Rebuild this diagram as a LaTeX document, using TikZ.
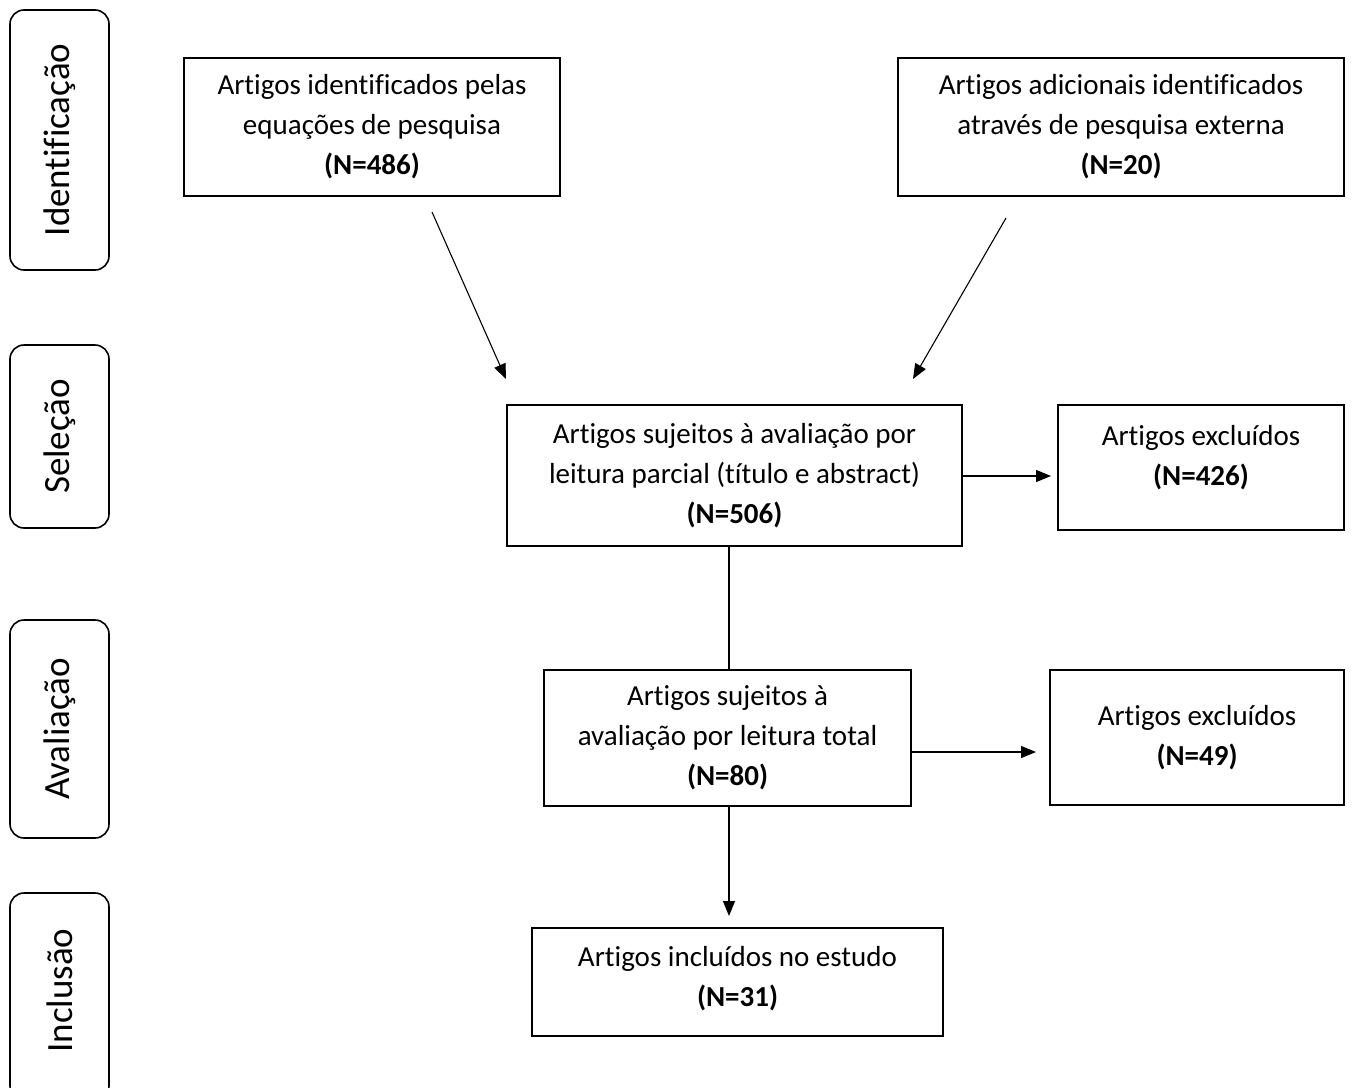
\documentclass[tikz,border=0pt]{standalone}
\usepackage{fontspec}
\setmainfont{Carlito}[Ligatures=NoCommon]
\usetikzlibrary{arrows.meta}
\begin{document}
\begin{tikzpicture}[x=1pt,y=-1pt,
  box/.style={draw=black,line width=1.1pt,rectangle,inner sep=0pt},
  side/.style={draw=black,line width=1.6pt,rounded corners=14pt,inner sep=0pt,minimum width=99pt},
  txt/.style={align=center,font=\fontsize{29}{40}\selectfont,inner sep=0pt},
  sidetxt/.style={rotate=90,font=\fontsize{37}{40}\selectfont,inner sep=0pt},
  arr/.style={line width=1.1pt,-{Triangle[length=15pt,width=12pt]}},
  ln/.style={line width=1.1pt}]
\useasboundingbox (0,0) rectangle (1354,1087);
\begin{scope}
\clip (0,0) rectangle (1354,1087);
% side boxes
\node[side,minimum height=260pt] (s1) at (59.5,140) {};
\node[side,minimum height=183pt] (s2) at (59.5,436.5) {};
\node[side,minimum height=218pt] (s3) at (59.5,729) {};
\node[side,minimum height=207pt] (s4) at (59.5,996.5) {};
\end{scope}
\node[sidetxt] at (s1.center) {Identificação};
\node[sidetxt] at (s2.center) {Seleção};
\node[sidetxt] at (s3.center) {Avaliação};
\node[sidetxt] at ([yshift=6pt]s4.center) {Inclusão};
% boxes
\node[box,minimum width=376pt,minimum height=138pt] (b1) at (372,127) {};
\node[txt] at (b1.center) {Artigos identificados pelas\\equações de pesquisa\\\textbf{(N=486)}};
\node[box,minimum width=446pt,minimum height=138pt] (b2) at (1121,127) {};
\node[txt] at (b2.center) {Artigos adicionais identificados\\através de pesquisa externa\\\textbf{(N=20)}};
\node[box,minimum width=455pt,minimum height=141pt] (b3) at (734.5,475.5) {};
\node[txt] at (b3.center) {Artigos sujeitos à avaliação por\\leitura parcial (título e abstract)\\\textbf{(N=506)}};
\node[box,minimum width=286pt,minimum height=125pt] (b4) at (1201,467.5) {};
\node[txt] at ([yshift=10pt]b4.center) {Artigos excluídos\\\textbf{(N=426)}};
\node[box,minimum width=367pt,minimum height=136pt] (b5) at (727.5,738) {};
\node[txt] at (b5.center) {Artigos sujeitos à\\avaliação por leitura total\\\textbf{(N=80)}};
\node[box,minimum width=294pt,minimum height=135pt] (b6) at (1197,737.5) {};
\node[txt] at (b6.center) {Artigos excluídos\\\textbf{(N=49)}};
\node[box,minimum width=411pt,minimum height=108pt] (b7) at (737.5,982) {};
\node[txt] at ([yshift=3pt]b7.center) {Artigos incluídos no estudo\\\textbf{(N=31)}};
% connectors
\coordinate (a1s) at (432,212);
\coordinate (a1e) at (506,379);
\coordinate (a2s) at (1006,218);
\coordinate (a2e) at (913,379);
\draw[arr] (a1s) -- (a1e);
\draw[arr] (a2s) -- (a2e);
\draw[ln] (b3.south -| 729,0) -- (b5.north -| 729,0);
\coordinate (a3e) at (1051,476);
\draw[arr] (b3.east |- a3e) -- (a3e);
\coordinate (a4e) at (1036,752);
\draw[arr] (b5.east |- a4e) -- (a4e);
\coordinate (a5e) at (729,916);
\draw[arr] (b5.south -| a5e) -- (a5e);
\end{tikzpicture}
\end{document}
